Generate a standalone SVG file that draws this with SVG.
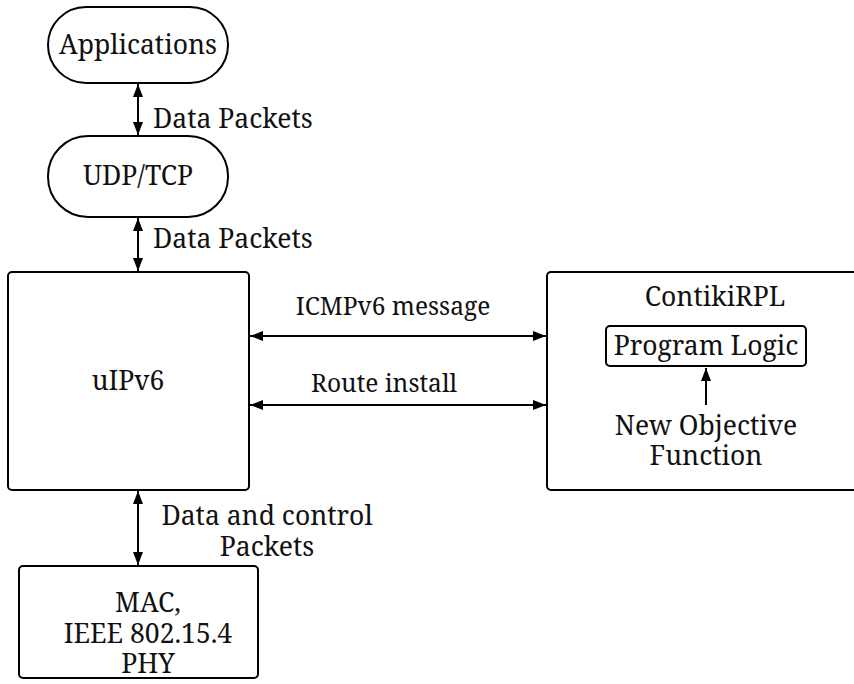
<svg xmlns="http://www.w3.org/2000/svg" width="854" height="684" viewBox="0 0 854 684">
<style>
.box{fill:#fff;stroke:#000;stroke-width:2}
.t{font-family:"Noto Serif","Droid Serif","DejaVu Serif",serif;font-size:26.5px;fill:#111}
.s{font-size:24.5px}
.m{text-anchor:middle}
.c{stroke:#000;stroke-width:2;fill:none}
</style>
<defs>
<marker id="ah" viewBox="0 0 13 10" refX="13" refY="5" markerWidth="6.5" markerHeight="5" markerUnits="strokeWidth" orient="auto-start-reverse">
<path d="M0,0 L13,5 L0,10 Z" fill="#000"/>
</marker>
</defs>
<rect width="854" height="684" fill="#fff"/>
<g id="applications"><rect class="box" x="48" y="7" width="180" height="76" rx="38"/><text class="t m" x="138" y="54">Applications</text></g>
<g id="udptcp"><rect class="box" x="48" y="136" width="180" height="81" rx="40"/><text class="t m" x="138" y="185">UDP/TCP</text></g>
<g id="uipv6"><rect class="box" x="8" y="272" width="241" height="218" rx="4"/><text class="t m" x="128" y="390">uIPv6</text></g>
<g id="contikirpl"><rect class="box" x="547" y="272" width="320" height="218" rx="4"/><text class="t m" x="715" y="306">ContikiRPL</text>
<rect class="box" x="606" y="326" width="200" height="40" rx="4"/><text class="t m" x="706" y="355">Program Logic</text>
<text class="t m" x="706" y="435">New Objective</text><text class="t m" x="706" y="465">Function</text></g>
<g id="mac"><rect class="box" x="19" y="566" width="239" height="112" rx="4"/><text class="t m" x="148" y="612">MAC,</text><text class="t m" x="148" y="643">IEEE 802.15.4</text><text class="t m" x="148" y="673">PHY</text></g>
<g id="connectors">
<line class="c" x1="138" y1="84" x2="138" y2="135" marker-start="url(#ah)" marker-end="url(#ah)"/>
<line class="c" x1="138" y1="218" x2="138" y2="271" marker-start="url(#ah)" marker-end="url(#ah)"/>
<line class="c" x1="250" y1="336" x2="546" y2="336" marker-start="url(#ah)" marker-end="url(#ah)"/>
<line class="c" x1="250" y1="405" x2="546" y2="405" marker-start="url(#ah)" marker-end="url(#ah)"/>
<line class="c" x1="138" y1="491" x2="138" y2="565" marker-start="url(#ah)" marker-end="url(#ah)"/>
<line class="c" x1="706" y1="405" x2="706" y2="368" marker-end="url(#ah)"/>
<text class="t" x="153" y="128">Data Packets</text>
<text class="t" x="153" y="248">Data Packets</text>
<text class="t s m" x="393" y="315">ICMPv6 message</text>
<text class="t s m" x="384" y="392">Route install</text>
<text class="t m" x="267" y="525">Data and control</text>
<text class="t m" x="267" y="556">Packets</text>
</g>
</svg>
